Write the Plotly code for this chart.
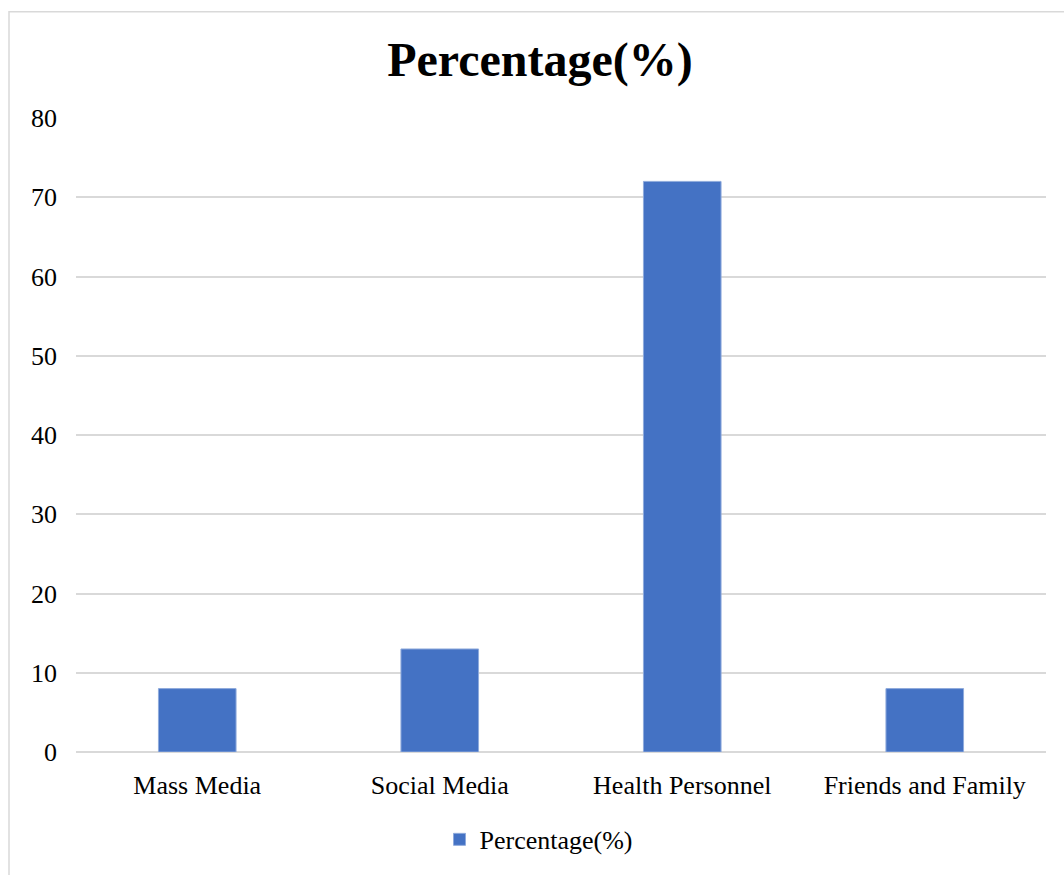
import plotly.graph_objects as go

categories = ["Mass Media", "Social Media", "Health Personnel", "Friends and Family"]
values = [8, 13, 72, 8]
series_name = "Percentage(%)"
y_ticks = [0, 10, 20, 30, 40, 50, 60, 70, 80]

FONT = "Liberation Serif, Times New Roman, serif"
L, R, T, B = 76, 18, 118, 119
W, H = 1064, 875
pw, ph = W - L - R, H - T - B

fig = go.Figure()
fig.add_trace(go.Bar(
    x=categories, y=values, name=series_name,
    marker=dict(color="#4472C4", line=dict(color="#8faadc", width=1)),
    showlegend=True,
))

fig.update_layout(
    width=W, height=H,
    margin=dict(l=L, r=R, t=T, b=B),
    paper_bgcolor="white", plot_bgcolor="white",
    bargap=0.68,
    font=dict(family=FONT, size=26, color="black"),
    title=dict(text="<b>" + series_name + "</b>", x=540 / W, xanchor="center",
               y=1 - 59 / H, yanchor="middle", yref="container",
               font=dict(family=FONT, size=48, color="black")),
    legend=dict(orientation="h", x=0.5 - 22 / pw, xanchor="center", y=-(844 - 756) / ph,
                yanchor="middle", font=dict(family=FONT, size=26),
                itemwidth=30, bgcolor="rgba(0,0,0,0)"),
    xaxis=dict(showgrid=False, showline=False, ticks="", zeroline=False,
               tickfont=dict(family=FONT, size=26), ticklabelstandoff=15),
    yaxis=dict(range=[0, 80], tickvals=y_ticks, showgrid=True, gridcolor="#d9d9d9",
               gridwidth=1.5, zeroline=True, zerolinecolor="#d9d9d9", zerolinewidth=1.5,
               showline=False, ticks="", tickfont=dict(family=FONT, size=26),
               ticklabelstandoff=18),
)

fig.add_shape(type="rect", xref="paper", yref="paper",
              x0=(9 - L) / pw, x1=1.2, y0=-0.5, y1=(H - B - 11) / ph,
              line=dict(color="#d9d9d9", width=1.5), fillcolor="rgba(0,0,0,0)",
              layer="below")

fig.write_html("out.html")
